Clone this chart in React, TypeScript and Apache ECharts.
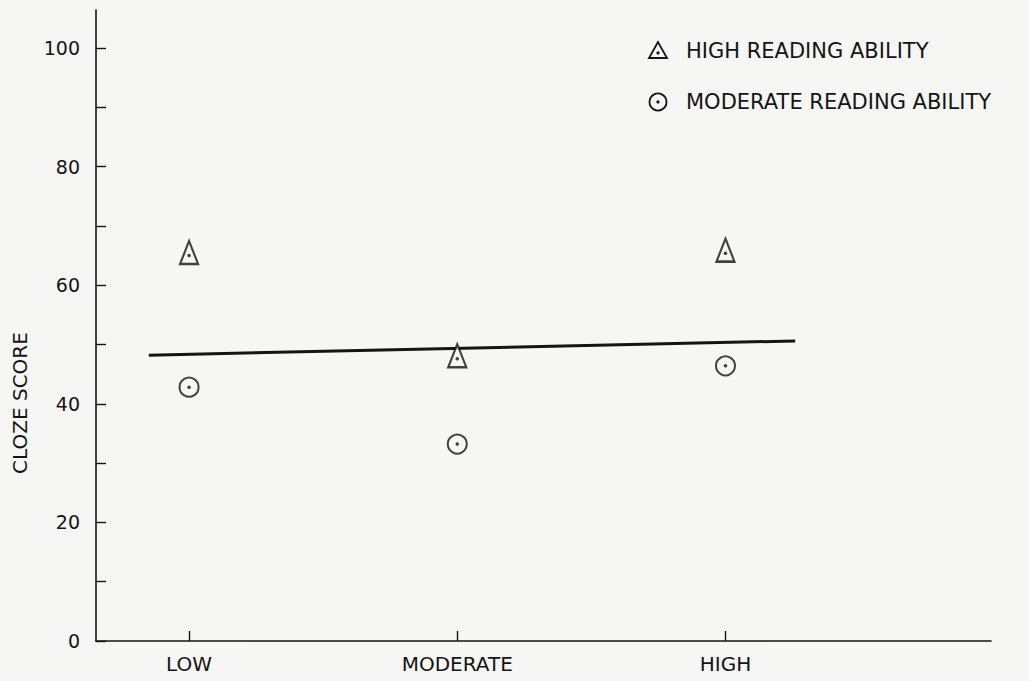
import React, { useEffect, useRef } from "react";
import * as echarts from "echarts";

const categories = ["LOW", "MODERATE", "HIGH"];
const categoryPositions = [1, 2, 3];
const highReading = [65.0, 47.6, 65.4];
const moderateReading = [42.8, 33.2, 46.4];
const fitLineX = [0.85, 3.26];
const fitLineY = [48.2, 50.6];
const yTickValues = [0, 10, 20, 30, 40, 50, 60, 70, 80, 90, 100];
const yLabelValues = [0, 20, 40, 60, 80, 100];
const legendNames = ["HIGH READING ABILITY", "MODERATE READING ABILITY"];
const yAxisTitle = "CLOZE SCORE";

const BG = "#f6f6f4";
const INK = "#141414";
const FONT = "DejaVu Sans";

export default function App() {
  const ref = useRef<HTMLDivElement>(null);
  useEffect(() => {
    if (!ref.current) return;
    const chart = echarts.init(ref.current, undefined, { renderer: "svg" });
    const tri = categoryPositions.map((x, i) => [x, highReading[i]]);
    const circ = categoryPositions.map((x, i) => [x, moderateReading[i]]);
    const line = fitLineX.map((x, i) => [x, fitLineY[i]]);
    chart.setOption({
      animation: false,
      backgroundColor: BG,
      grid: { left: 96, right: 38, top: 10, bottom: 40, containLabel: false },
      xAxis: {
        type: "value",
        min: 0.653,
        max: 3.99,
        splitLine: { show: false },
        axisLine: { show: true, onZero: false, lineStyle: { color: INK, width: 1.6 } },
        axisTick: { show: true, inside: true, length: 10, customValues: categoryPositions, lineStyle: { color: INK, width: 1.4 } },
        axisLabel: {
          show: true,
          customValues: categoryPositions,
          formatter: (v: number) => categories[Math.round(v) - 1] ?? "",
          color: INK,
          fontFamily: FONT,
          fontSize: 20,
          margin: 13,
        },
      },
      yAxis: {
        type: "value",
        min: 0,
        max: 106.4,
        splitLine: { show: false },
        axisLine: { show: true, lineStyle: { color: INK, width: 1.6 } },
        axisTick: { show: true, inside: true, length: 10, customValues: yTickValues, lineStyle: { color: INK, width: 1.4 } },
        axisLabel: {
          show: true,
          customValues: yLabelValues,
          color: INK,
          fontFamily: FONT,
          fontSize: 19,
          margin: 16,
        },
      },
      series: [
        {
          name: "fit",
          type: "line",
          data: line,
          showSymbol: false,
          symbol: "none",
          lineStyle: { color: INK, width: 3 },
          z: 2,
        },
        {
          name: legendNames[0],
          type: "scatter",
          data: tri,
          symbol: "triangle",
          symbolSize: [18, 23],
          symbolOffset: [0, -3],
          itemStyle: { color: BG, borderColor: INK, borderWidth: 2.3 },
          z: 3,
        },
        {
          name: legendNames[1],
          type: "scatter",
          data: circ,
          symbol: "circle",
          symbolSize: 19,
          itemStyle: { color: BG, borderColor: INK, borderWidth: 2 },
          z: 3,
        },
        {
          name: "dots",
          type: "scatter",
          data: [...tri, ...circ],
          symbol: "circle",
          symbolSize: 3.5,
          itemStyle: { color: INK },
          z: 4,
        },
      ],
      graphic: [
        {
          type: "text",
          x: 20,
          y: 403,
          rotation: Math.PI / 2,
          style: {
            text: yAxisTitle,
            fill: INK,
            font: `20px "${FONT}"`,
            align: "center",
            verticalAlign: "middle",
          },
        },
        {
          type: "polygon",
          shape: { points: [[658, 42], [649, 58], [667, 58]] },
          style: { fill: "none", stroke: INK, lineWidth: 1.8 },
        },
        { type: "circle", shape: { cx: 658, cy: 53, r: 1.6 }, style: { fill: INK } },
        { type: "circle", shape: { cx: 658, cy: 102, r: 8.5 }, style: { fill: "none", stroke: INK, lineWidth: 1.8 } },
        { type: "circle", shape: { cx: 658, cy: 102, r: 1.6 }, style: { fill: INK } },
        {
          type: "text",
          x: 686,
          y: 51,
          style: { text: legendNames[0], fill: INK, font: `21px "${FONT}"`, verticalAlign: "middle" },
        },
        {
          type: "text",
          x: 686,
          y: 102,
          style: { text: legendNames[1], fill: INK, font: `21px "${FONT}"`, verticalAlign: "middle" },
        },
      ],
    });
    return () => chart.dispose();
  }, []);
  return <div ref={ref} style={{ width: 1029, height: 681, position: "fixed", left: 0, top: 0 }} />;
}
